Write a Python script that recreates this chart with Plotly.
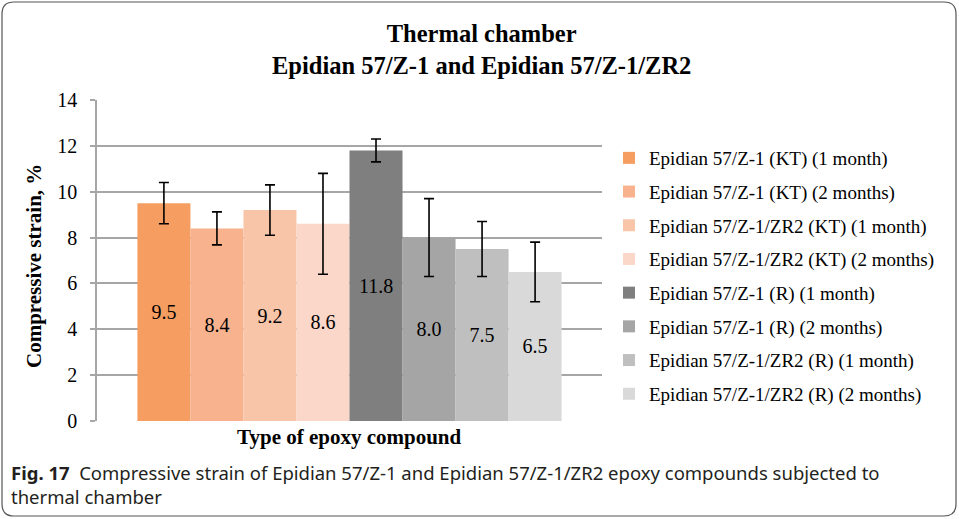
import plotly.graph_objects as go

# data
series = [
    'Epidian 57/Z-1 (KT) (1 month)',
    'Epidian 57/Z-1 (KT) (2 months)',
    'Epidian 57/Z-1/ZR2 (KT) (1 month)',
    'Epidian 57/Z-1/ZR2 (KT) (2 months)',
    'Epidian 57/Z-1 (R) (1 month)',
    'Epidian 57/Z-1 (R) (2 months)',
    'Epidian 57/Z-1/ZR2 (R) (1 month)',
    'Epidian 57/Z-1/ZR2 (R) (2 months)',
]
strain = [9.5, 8.4, 9.2, 8.6, 11.8, 8.0, 7.5, 6.5]
errors = [0.9, 0.72, 1.1, 2.2, 0.5, 1.7, 1.2, 1.3]
colors = ['#F69E61', '#F8B28E', '#F9C5A8', '#FAD7C8',
          '#7F7F7F', '#A5A5A5', '#BFBFBF', '#D9D9D9']
y_ticks = [0, 2, 4, 6, 8, 10, 12, 14]

SERIF = 'Liberation Serif'

# plot area in pixels (959 x 519 page)
L, R, T, B = 97, 602, 100, 421
W, H = 959, 519


def px_x(px):
    return (px - L) / (R - L)


def px_y(py):
    return (B - py) / (B - T)


fig = go.Figure()

for name, val, err, col in zip(series, strain, errors, colors):
    fig.add_trace(go.Bar(
        x=['Type of epoxy compound'],
        y=[val],
        name=name,
        legendgroup=name,
        marker=dict(color=col, line=dict(width=0)),
        error_y=dict(type='data', array=[err], color='black',
                     thickness=1.6, width=5),
        text=[val],
        texttemplate='%{y:.1f}',
        textposition='inside',
        insidetextanchor='middle',
        textangle=0,
        textfont=dict(family=SERIF, size=20, color='black'),
        hoverinfo='skip',
    ))

# rounded outer frame
x0, y0, x1, y1, r = 2, 2, 956, 516, 12
pts = [(x0 + r, y0), (x1 - r, y0), (x1, y0), (x1, y0 + r), (x1, y1 - r),
       (x1, y1), (x1 - r, y1), (x0 + r, y1), (x0, y1), (x0, y1 - r),
       (x0, y0 + r), (x0, y0), (x0 + r, y0)]
P = [(px_x(a), px_y(b)) for a, b in pts]
path = (f'M {P[0][0]},{P[0][1]} L {P[1][0]},{P[1][1]} Q {P[2][0]},{P[2][1]} {P[3][0]},{P[3][1]} '
        f'L {P[4][0]},{P[4][1]} Q {P[5][0]},{P[5][1]} {P[6][0]},{P[6][1]} '
        f'L {P[7][0]},{P[7][1]} Q {P[8][0]},{P[8][1]} {P[9][0]},{P[9][1]} '
        f'L {P[10][0]},{P[10][1]} Q {P[11][0]},{P[11][1]} {P[12][0]},{P[12][1]} Z')

fig.update_layout(
    width=W, height=H,
    margin=dict(l=L, r=W - R, t=T, b=H - B, autoexpand=False),
    paper_bgcolor='white',
    plot_bgcolor='white',
    barmode='group',
    bargap=0.16,
    bargroupgap=0,
    showlegend=True,
    font=dict(family=SERIF, size=18, color='black'),
    xaxis=dict(
        showticklabels=False,
        showgrid=False,
        zeroline=False,
        showline=False,
    ),
    yaxis=dict(
        range=[0, 14],
        tickvals=y_ticks,
        gridcolor='#A6A6A6',
        gridwidth=1.5,
        zeroline=False,
        showline=True,
        linecolor='#A6A6A6',
        linewidth=1.5,
        ticks='outside',
        ticklen=5,
        tickwidth=1.5,
        tickcolor='#A6A6A6',
        ticklabelstandoff=9,
        automargin=False,
        tickfont=dict(family=SERIF, size=20, color='black'),
    ),
    legend=dict(
        x=px_x(609), xanchor='left',
        y=px_y(139), yanchor='top',
        font=dict(family=SERIF, size=19, color='black'),
        tracegroupgap=6,
        bgcolor='rgba(0,0,0,0)',
        itemwidth=30,
    ),
    shapes=[dict(type='path', xref='paper', yref='paper', path=path,
                 line=dict(color='#555555', width=1.2), layer='above')],
    annotations=[
        dict(text='<b>Thermal chamber<br>Epidian 57/Z-1 and Epidian 57/Z-1/ZR2</b>',
             x=px_x(481), y=px_y(49), xref='paper', yref='paper',
             xanchor='center', yanchor='middle',
             showarrow=False, font=dict(family=SERIF, size=24.5)),
        dict(text='<b>Compressive strain, %</b>', textangle=-90,
             x=px_x(34), y=px_y(266), xref='paper', yref='paper',
             xanchor='center', yanchor='middle',
             showarrow=False, font=dict(family=SERIF, size=21)),
        dict(text='<b>Type of epoxy compound</b>',
             x=px_x(349), y=px_y(437), xref='paper', yref='paper',
             xanchor='center', yanchor='middle',
             showarrow=False, font=dict(family=SERIF, size=21)),
        dict(text='<b>Fig. 17</b>  Compressive strain of Epidian 57/Z-1 and Epidian 57/Z-1/ZR2 '
                  'epoxy compounds subjected to<br>thermal chamber',
             x=px_x(9), y=px_y(458), xref='paper', yref='paper',
             xanchor='left', yanchor='top', align='left',
             showarrow=False,
             font=dict(family='Noto Sans', size=18.5, color='#231F20')),
    ],
)

fig.write_html('out.html', config={'displayModeBar': False},
               post_script="document.body.style.margin='0';")
